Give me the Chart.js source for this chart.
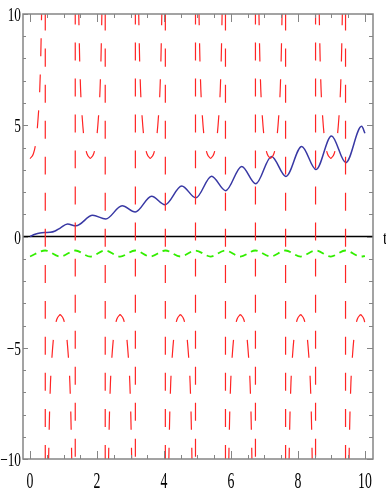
<!DOCTYPE html>
<html><head><meta charset="utf-8">
<script src="https://cdn.jsdelivr.net/npm/chart.js@4/dist/chart.umd.min.js"></script>
<style>html,body{margin:0;padding:0;background:#fff;overflow:hidden}#wrap{width:386px;height:494px}</style>
</head><body><div id="wrap"><canvas id="c" width="386" height="494"></canvas></div>
<script>
// ---- axis ticks / labels ----
const xTickValues = [0, 2, 4, 6, 8, 10];
const xTickLabels = ['0', '2', '4', '6', '8', '10'];
const xMinorTicks = [0,0.5,1,1.5,2,2.5,3,3.5,4,4.5,5,5.5,6,6.5,7,7.5,8,8.5,9,9.5,10];
const yTickValues = [10, 5, 0, -5, -10];
const yTickLabels = ['10', '5', '0', '\u22125', '\u221210'];
const yMinorTicks = [-10,-9,-8,-7,-6,-5,-4,-3,-2,-1,0,1,2,3,4,5,6,7,8,9,10];
const axisName = 't';

// ---- blue curve (extremes + a few early points) ----
const blueT = [0, 0.15, 0.3, 0.45, 0.6, 0.75, 0.9, 1.12, 1.37, 1.87, 2.26, 2.75, 3.14, 3.63, 4.03, 4.53, 4.95, 5.42, 5.84, 6.32, 6.74, 7.21, 7.64, 8.11, 8.54, 9.0, 9.43, 9.9, 10.0];
const blueY = [0, 0.10, 0.16, 0.18, 0.19, 0.25, 0.38, 0.56, 0.48, 0.95, 0.79, 1.38, 1.10, 1.81, 1.43, 2.27, 1.74, 2.71, 2.06, 3.15, 2.37, 3.60, 2.70, 4.05, 3.01, 4.52, 3.32, 4.95, 4.64];

// ---- green dashed curve ----
const greenT = [0, 0.45, 0.90, 1.35, 1.80, 2.24, 2.69, 3.14, 3.59, 4.04, 4.49, 4.94, 5.39, 5.83, 6.28, 6.73, 7.18, 7.63, 8.08, 8.53, 8.98, 9.42, 9.87, 10.0];
const greenY = [-0.90, -0.63, -0.90, -0.63, -0.90, -0.63, -0.90, -0.63, -0.90, -0.63, -0.90, -0.63, -0.90, -0.63, -0.90, -0.63, -0.90, -0.63, -0.90, -0.63, -0.90, -0.63, -0.90, -0.88];

// ---- red dashed curve: branches around each extreme, plus the vertical jumps ----
const redCenterT = [0, 0.90, 1.80, 2.69, 3.59, 4.49, 5.39, 6.28, 7.18, 8.08, 8.98, 9.87];
const redCenterSign = [1, -1, 1, -1, 1, -1, 1, -1, 1, -1, 1, -1];
const redBranchDt = [0, 0.10, 0.18, 0.24, 0.29, 0.33, 0.37, 0.40, 0.43];
const redBranchAbs = [3.5, 3.72, 4.3, 5.3, 6.6, 8.8, 13, 20, 48];
const redEnd = [10.0, -3.9];
const redAsymT = [0.455, 1.35, 2.245, 3.145, 4.04, 4.94, 5.835, 6.73, 7.63, 8.525, 9.42];

// dash styles
const RED_DASH = [18, 18];
const redLinePhase = [1.2, 7.4, 1.2, 7.4, 1.2, 7.4, 1.2, 7.4, 1.2, 7.4, 1.2];

const RED = '#ff2424';
function redSet(points, offset) {
  return {data: points, borderColor: RED, borderWidth: 1.2, borderDash: RED_DASH, borderDashOffset: offset,
          pointRadius: 0, cubicInterpolationMode: 'monotone', fill: false};
}
const redDatasets = [];
redCenterT.forEach((c, i) => {
  const s = redCenterSign[i];
  const last = i === redCenterT.length - 1;
  const right = [{x: c, y: s * redBranchAbs[0]}];
  if (!last) {
    for (let k = 1; k < redBranchDt.length; k++) right.push({x: c + redBranchDt[k], y: s * redBranchAbs[k]});
  } else {
    right.push({x: c + redBranchDt[1], y: s * redBranchAbs[1]});
    right.push({x: redEnd[0], y: redEnd[1]});
  }
  redDatasets.push(redSet(right, i === 0 ? 4 : 9));
  if (i > 0) {
    const left = [];
    for (let k = 0; k < redBranchDt.length; k++) left.push({x: c - redBranchDt[k], y: s * redBranchAbs[k]});
    redDatasets.push(redSet(left, 9));
  }
});
redAsymT.forEach((a, j) => redDatasets.push(redSet([{x: a, y: 10}, {x: a, y: -10}], redLinePhase[j])));

const bluePts = blueT.map((t, i) => ({x: t, y: blueY[i]}));
const greenPts = greenT.map((t, i) => ({x: t, y: greenY[i]}));

const GRAY = '#858585';
const mapleAxes = {
  id: 'mapleAxes',
  beforeDatasetsDraw(chart) {
    const {ctx, chartArea: a, scales: {y}} = chart;
    const y0 = y.getPixelForValue(0);
    ctx.save();
    ctx.strokeStyle = '#000'; ctx.lineWidth = 1.3;
    ctx.beginPath(); ctx.moveTo(a.left, y0); ctx.lineTo(a.right, y0); ctx.stroke();
    ctx.restore();
  },
  afterDraw(chart) {
    const {ctx, chartArea: a, scales: {x, y}} = chart;
    ctx.save();
    ctx.strokeStyle = GRAY; ctx.lineWidth = 1.5;
    ctx.strokeRect(a.left, a.top, a.right - a.left, a.bottom - a.top);
    ctx.lineWidth = 1;
    ctx.beginPath();
    xMinorTicks.forEach(v => {
      const px = Math.round(x.getPixelForValue(v)) + 0.5;
      const len = xTickValues.includes(v) ? 8 : 4;
      ctx.moveTo(px, a.bottom); ctx.lineTo(px, a.bottom - len);
      ctx.moveTo(px, a.top); ctx.lineTo(px, a.top + len);
    });
    yMinorTicks.forEach(v => {
      const py = Math.round(y.getPixelForValue(v)) + 0.5;
      const len = yTickValues.includes(v) ? 5 : 3;
      ctx.moveTo(a.left, py); ctx.lineTo(a.left + len, py);
      ctx.moveTo(a.right, py); ctx.lineTo(a.right - len - 1, py);
    });
    ctx.stroke();
    ctx.fillStyle = '#000';
    ctx.font = '19px "Liberation Serif", "DejaVu Serif", serif';
    ctx.textAlign = 'right'; ctx.textBaseline = 'alphabetic';
    yTickValues.forEach((v, i) => {
      const py = y.getPixelForValue(v);
      ctx.save(); ctx.translate(a.left - 2, py + 7); ctx.scale(0.7, 1);
      ctx.fillText(yTickLabels[i], 0, 0); ctx.restore();
    });
    ctx.font = '23px "Liberation Serif", "DejaVu Serif", serif';
    ctx.textAlign = 'center';
    xTickValues.forEach((v, i) => {
      const px = x.getPixelForValue(v);
      ctx.save(); ctx.translate(px, 488); ctx.scale(0.6, 1);
      ctx.fillText(xTickLabels[i], 0, 0); ctx.restore();
    });
    ctx.font = '19px "Liberation Serif", "DejaVu Serif", serif';
    ctx.save(); ctx.translate(385, y.getPixelForValue(0) + 7); ctx.scale(0.8, 1);
    ctx.fillText(axisName, 0, 0); ctx.restore();
    ctx.restore();
  }
};

new Chart(document.getElementById('c'), {
  type: 'line',
  data: {
    datasets: redDatasets.concat([
      {data: greenPts, borderColor: '#33ee00', borderWidth: 1.8, borderDash: [7, 5], pointRadius: 0, cubicInterpolationMode: 'monotone', fill: false},
      {data: bluePts, borderColor: '#3838a4', borderWidth: 1.5, pointRadius: 0, cubicInterpolationMode: 'monotone', fill: false}
    ])
  },
  options: {
    responsive: false, animation: false, events: [],
    layout: {padding: {top: 14, right: 13, left: 0, bottom: 0}},
    scales: {
      x: {type: 'linear', min: -0.21, max: 10.24, grid: {display: false}, border: {display: false}, ticks: {display: false}, afterFit: s => { s.height = 35; }},
      y: {type: 'linear', min: -10, max: 10, grid: {display: false}, border: {display: false}, ticks: {display: false}, afterFit: s => { s.width = 23; }}
    },
    plugins: {legend: {display: false}, tooltip: {enabled: false}}
  },
  plugins: [mapleAxes]
});
</script></body></html>
